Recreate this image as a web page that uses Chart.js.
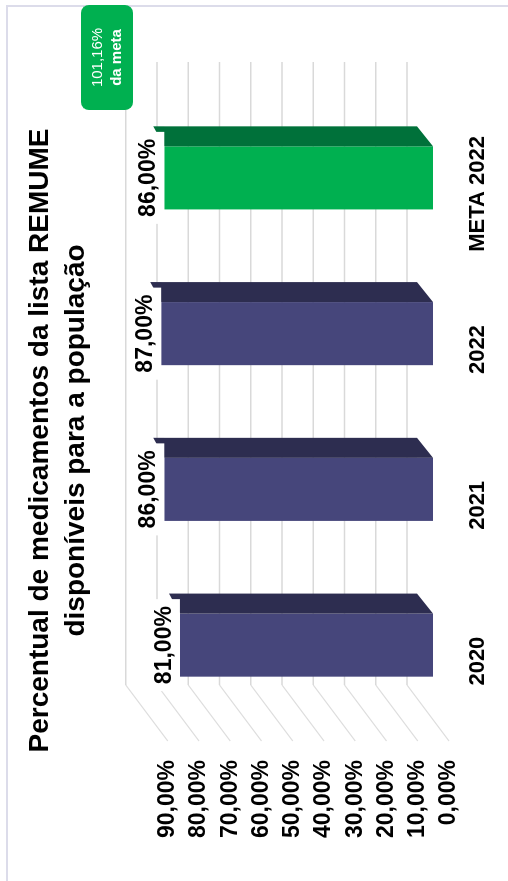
<!DOCTYPE html>
<html>
<head>
<meta charset="utf-8">
<script src="https://cdn.jsdelivr.net/npm/chart.js@4.4.1/dist/chart.umd.min.js"></script>
<style>
  html, body { margin: 0; padding: 0; background: #ffffff; overflow: hidden; }
  #frame { position: absolute; left: 6px; top: 5px; width: 600px; height: 1000px;
           border-left: 2px solid #dcdcea; border-top: 2px solid #dcdcea; }
  #wrap { position: absolute; left: 0; top: 0; width: 881px; height: 508px;
          transform-origin: 0 0; transform: translate(0px, 881px) rotate(-90deg); }
  canvas { display: block; }
</style>
</head>
<body>
<div id="frame"></div>
<div id="wrap"><canvas id="c" width="881" height="508"></canvas></div>
<script>
// ---- data ----
const categories = ['2020', '2021', '2022', 'META 2022'];
const values = [81, 86, 87, 86];
const frontColors = ['#46467b', '#46467b', '#46467b', '#00b050'];
const sideColors = ['#2d2d50', '#2d2d50', '#2d2d50', '#00713a'];
const titleLines = ['Percentual de medicamentos da lista REMUME', 'disponíveis para a população'];
const axisMin = 0;
const axisMax = 90;
const axisStep = 10;
const noteLabel = 'da meta';

const FONT = "'Liberation Sans', Arial, sans-serif";
const fmtPct = v => v.toFixed(2).replace('.', ',') + '%';

// 3D styling offsets
const WALL = { dx: 38, dy: -26 };     // front plane -> back wall
const SIDE = { dx: -56, dy: 42 };     // back wall -> front edge of side wall
const BAR_DEPTH = { dx: 20, dy: -13 };

const fake3d = {
  id: 'fake3d',
  beforeDatasetsDraw(chart) {
    const { ctx, chartArea: ca, scales: { y } } = chart;
    ctx.save();
    y.ticks.forEach(t => {
      const py = y.getPixelForValue(t.value) + WALL.dy;
      const x0 = ca.left + WALL.dx, x1 = ca.right + WALL.dx;
      ctx.strokeStyle = '#d9d9d9';
      ctx.lineWidth = 1.6;
      ctx.beginPath(); ctx.moveTo(x0, py); ctx.lineTo(x1, py); ctx.stroke();
      ctx.strokeStyle = '#dedede';
      ctx.lineWidth = 1.2;
      ctx.beginPath(); ctx.moveTo(x0, py); ctx.lineTo(x0 + SIDE.dx, py + SIDE.dy); ctx.stroke();
    });
    ctx.restore();
  },
  afterDatasetsDraw(chart) {
    const { ctx } = chart;
    const meta = chart.getDatasetMeta(0);
    ctx.save();
    meta.data.forEach((bar, i) => {
      const p = bar.getProps(['x', 'y', 'base', 'width'], true);
      const xr = p.x + p.width / 2;
      ctx.fillStyle = sideColors[i];
      ctx.beginPath();
      ctx.moveTo(xr, p.y);
      ctx.lineTo(xr + BAR_DEPTH.dx, p.y + BAR_DEPTH.dy + 2);
      ctx.lineTo(xr + BAR_DEPTH.dx, p.base + BAR_DEPTH.dy - 3);
      ctx.lineTo(xr, p.base);
      ctx.closePath();
      ctx.fill();
    });
    // value labels
    meta.data.forEach((bar, i) => {
      const p = bar.getProps(['x', 'y'], true);
      const txt = fmtPct(values[i]);
      ctx.font = 'bold 23px ' + FONT;
      const w = ctx.measureText(txt).width + 14;
      const h = 33;
      ctx.fillStyle = '#ffffff';
      ctx.fillRect(p.x - w / 2, p.y - h, w, h);
      ctx.fillStyle = '#000000';
      ctx.textAlign = 'center';
      ctx.textBaseline = 'middle';
      ctx.fillText(txt, p.x, p.y - h / 2 + 1);
    });
    ctx.restore();
  },
  afterDraw(chart) {
    const { ctx } = chart;
    const ratio = values[2] / values[3] * 100;
    const bw = 105, bh = 52;
    const bx = chart.width - 5 - bw, by = 81;
    ctx.save();
    ctx.fillStyle = '#00b050';
    ctx.beginPath();
    ctx.roundRect(bx, by, bw, bh, 8);
    ctx.fill();
    ctx.fillStyle = '#ffffff';
    ctx.textAlign = 'center';
    ctx.textBaseline = 'middle';
    ctx.font = '15px ' + FONT;
    ctx.fillText(fmtPct(ratio), bx + bw / 2, by + 17);
    ctx.font = 'bold 15px ' + FONT;
    ctx.fillText(noteLabel, bx + bw / 2, by + 36);
    ctx.restore();
  }
};

new Chart(document.getElementById('c'), {
  type: 'bar',
  data: {
    labels: categories,
    datasets: [{
      data: values,
      backgroundColor: frontColors,
      borderWidth: 0,
      categoryPercentage: 1,
      barPercentage: 0.405
    }]
  },
  options: {
    responsive: false,
    animation: false,
    devicePixelRatio: 1,
    layout: { padding: { left: 0, right: 0, top: 0, bottom: 0 } },
    plugins: {
      legend: { display: false },
      tooltip: { enabled: false },
      title: {
        display: true,
        text: titleLines,
        color: '#000000',
        font: { family: FONT, size: 28, weight: 'bold', lineHeight: 1.3 },
        padding: { top: 22, bottom: 57 }
      }
    },
    scales: {
      x: {
        grid: { display: false, drawTicks: false },
        border: { display: false },
        ticks: {
          color: '#000000',
          font: { family: FONT, size: 22, weight: 'bold' },
          padding: 32,
          labelOffset: -16,
          maxRotation: 0,
          autoSkip: false
        },
        afterFit(scale) { scale.height = 75; }
      },
      y: {
        min: axisMin,
        max: axisMax,
        grid: { display: false, drawTicks: false },
        border: { display: false },
        ticks: {
          stepSize: axisStep,
          color: '#000000',
          font: { family: FONT, size: 23, weight: 'bold' },
          padding: 37,
          labelOffset: 16,
          callback: v => fmtPct(v)
        },
        afterFit(scale) { scale.width = 158; }
      },
      yRight: {
        position: 'right',
        min: axisMin,
        max: axisMax,
        grid: { display: false, drawTicks: false },
        border: { display: false },
        ticks: { display: false },
        afterFit(scale) { scale.width = 100; }
      }
    }
  },
  plugins: [fake3d]
});
</script>
</body>
</html>
